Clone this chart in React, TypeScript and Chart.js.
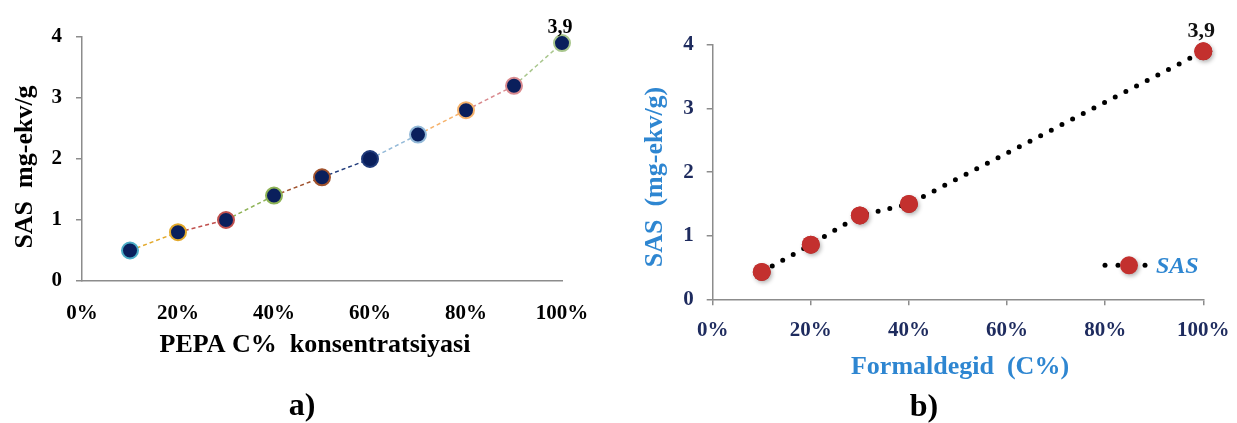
import { useEffect, useRef } from 'react';
import { Chart, registerables } from 'chart.js';

Chart.register(...registerables);

// Panel a) — PEPA concentration vs SAS
const pepaPercent = [10, 20, 30, 40, 50, 60, 70, 80, 90, 100];
const pepaSas = [0.5, 0.8, 1.0, 1.4, 1.7, 2.0, 2.4, 2.8, 3.2, 3.9];
const pepaPointColors = [
  '#4BACC6', '#E3A92B', '#C0504D', '#8DB255', '#A0522D',
  '#1F3A7A', '#93B9D8', '#F6B26B', '#D98A8E', '#A8C68C',
];

// Panel b) — formaldehyde concentration vs SAS
const formPercent = [10, 20, 30, 40, 100];
const formSas = [0.43, 0.86, 1.32, 1.5, 3.9];

// Shared axis ranges
const xMin = 0;
const xMax = 100;
const xStep = 20;
const yMin = 0;
const yMax = 4;
const yStep = 1;

const SERIF = '"Liberation Serif", "Times New Roman", serif';
const AXIS_GREY = '#8c8c8c';
const NAVY = '#1E2B5E';
const BLUE = '#2E86D1';

type Caption = { text: string; x: number; y: number; font: string; color: string; rotate?: boolean };

function captionsPlugin(items: Caption[]) {
  return {
    id: 'captions',
    afterDraw(chart: any) {
      const ctx = chart.ctx as CanvasRenderingContext2D;
      for (const c of items) {
        ctx.save();
        ctx.translate(c.x, c.y);
        if (c.rotate) ctx.rotate(-Math.PI / 2);
        ctx.font = c.font;
        ctx.fillStyle = c.color;
        ctx.textAlign = 'center';
        ctx.textBaseline = 'middle';
        ctx.fillText(c.text, 0, 0);
        ctx.restore();
      }
    },
  };
}

// Writes the value of the last point above it, with a decimal comma
function lastValuePlugin(values: number[], font: string, color: string, lift: number) {
  return {
    id: 'lastValue',
    afterDatasetsDraw(chart: any) {
      const meta = chart.getDatasetMeta(0);
      const idx = meta.data.length - 1;
      const el = meta.data[idx];
      const v = values[idx];
      const ctx = chart.ctx as CanvasRenderingContext2D;
      ctx.save();
      ctx.font = font;
      ctx.fillStyle = color;
      ctx.textAlign = 'center';
      ctx.textBaseline = 'middle';
      ctx.fillText(String(v).replace('.', ','), el.x - 2, el.y - lift);
      ctx.restore();
    },
  };
}

// Soft drop shadow under the point markers only
function markerShadowPlugin(color: string) {
  return {
    id: 'markerShadow',
    afterDatasetsDraw(chart: any) {
      const meta = chart.getDatasetMeta(0);
      const ctx = chart.ctx as CanvasRenderingContext2D;
      ctx.save();
      ctx.shadowColor = color;
      ctx.shadowBlur = 4;
      ctx.shadowOffsetX = 1.5;
      ctx.shadowOffsetY = 2;
      for (const el of meta.data) el.draw(ctx, chart.chartArea);
      ctx.restore();
    },
  };
}

// In-plot legend sample for the dotted series
function sampleLegendPlugin(label: string, ox: number, oy: number) {
  return {
    id: 'sampleLegend',
    afterDraw(chart: any) {
      const ds = chart.data.datasets[0];
      const ctx = chart.ctx as CanvasRenderingContext2D;
      const area = chart.chartArea;
      const x0 = area.right - ox;
      const y0 = area.bottom - oy;
      const dotR = ds.borderWidth / 2;
      ctx.save();
      ctx.fillStyle = ds.borderColor;
      for (const dx of [0, 13, 40]) {
        ctx.beginPath();
        ctx.arc(x0 + dx, y0, dotR, 0, Math.PI * 2);
        ctx.fill();
      }
      ctx.shadowColor = 'rgba(0,0,0,0.3)';
      ctx.shadowBlur = 4;
      ctx.shadowOffsetX = 1.5;
      ctx.shadowOffsetY = 2;
      ctx.fillStyle = ds.pointBackgroundColor;
      ctx.beginPath();
      ctx.arc(x0 + 24, y0, ds.pointRadius, 0, Math.PI * 2);
      ctx.fill();
      ctx.shadowColor = 'transparent';
      ctx.font = `italic bold 24px ${SERIF}`;
      ctx.fillStyle = BLUE;
      ctx.textAlign = 'left';
      ctx.textBaseline = 'middle';
      ctx.fillText(label, x0 + 51, y0 + 1);
      ctx.restore();
    },
  };
}

function makeScales(tickColor: string, xTickMarks: boolean, xPad: number, yPad: number) {
  return {
    x: {
      type: 'linear' as const,
      min: xMin,
      max: xMax,
      afterFit: (s: any) => {
        s.height = 50;
        // edge labels may overhang; the layout padding already leaves room
        s.paddingLeft = 0;
        s.paddingRight = 0;
      },
      ticks: {
        stepSize: xStep,
        padding: xPad,
        color: tickColor,
        font: { family: SERIF, size: 21, weight: 'bold' as const },
        callback: (v: any) => `${v}%`,
      },
      grid: xTickMarks
        ? { drawOnChartArea: false, drawTicks: true, tickLength: 6, color: AXIS_GREY, lineWidth: 1.5 }
        : { display: false, drawTicks: false },
      border: { display: true, color: AXIS_GREY, width: 1.5 },
    },
    y: {
      min: yMin,
      max: yMax,
      afterFit: (s: any) => { s.width = 40; },
      ticks: {
        stepSize: yStep,
        padding: yPad,
        color: tickColor,
        font: { family: SERIF, size: 21, weight: 'bold' as const },
      },
      grid: { drawOnChartArea: false, drawTicks: true, tickLength: 6, color: AXIS_GREY, lineWidth: 1.5 },
      border: { display: true, color: AXIS_GREY, width: 1.5 },
    },
  };
}

export default function App() {
  const leftRef = useRef<HTMLCanvasElement>(null);
  const rightRef = useRef<HTMLCanvasElement>(null);

  useEffect(() => {
    const left = new Chart(leftRef.current!, {
      type: 'line',
      data: {
        datasets: [
          {
            label: 'SAS',
            data: pepaPercent.map((p, i) => ({ x: p, y: pepaSas[i] })),
            clip: false,
            borderWidth: 1.5,
            borderDash: [4, 3],
            borderColor: pepaPointColors[0],
            segment: {
              borderColor: (ctx: any) => pepaPointColors[ctx.p1DataIndex],
            },
            pointRadius: 8,
            pointBorderWidth: 2,
            pointBackgroundColor: '#0A1F5C',
            pointBorderColor: pepaPointColors,
          },
        ],
      },
      options: {
        responsive: false,
        animation: false,
        layout: { padding: { left: 42, right: 58, top: 37, bottom: 92 } },
        plugins: { legend: { display: false }, tooltip: { enabled: false } },
        scales: makeScales('#000', false, 20, 14),
      },
      plugins: [
        captionsPlugin([
          { text: 'SAS  mg-ekv/g', x: 25, y: 167, font: `bold 26px ${SERIF}`, color: '#000', rotate: true },
          { text: 'PEPA C%  konsentratsiyasi', x: 315, y: 345, font: `bold 26px ${SERIF}`, color: '#000' },
          { text: 'a)', x: 302, y: 407, font: `bold 32px ${SERIF}`, color: '#000' },
        ]),
        lastValuePlugin(pepaSas, `bold 20px ${SERIF}`, '#000', 15),
      ],
    });

    const right = new Chart(rightRef.current!, {
      type: 'line',
      data: {
        datasets: [
          {
            label: 'SAS',
            data: formPercent.map((p, i) => ({ x: p, y: formSas[i] })),
            clip: false,
            borderWidth: 5,
            borderDash: [0, 12],
            borderCapStyle: 'round',
            borderColor: '#000',
            pointRadius: 9,
            pointBorderWidth: 0,
            pointBackgroundColor: '#C3302E',
            pointBorderColor: '#C3302E',
          },
        ],
      },
      options: {
        responsive: false,
        animation: false,
        layout: { padding: { left: 52.7, right: 33.7, top: 45, bottom: 73.7 } },
        plugins: { legend: { display: false }, tooltip: { enabled: false } },
        scales: makeScales(NAVY, true, 13, 13),
      },
      plugins: [
        captionsPlugin([
          { text: 'SAS  (mg-ekv/g)', x: 35, y: 177, font: `bold 26px ${SERIF}`, color: BLUE, rotate: true },
          { text: 'Formaldegid  (C%)', x: 340, y: 367, font: `bold 26px ${SERIF}`, color: BLUE },
          { text: 'b)', x: 304, y: 408, font: `bold 32px ${SERIF}`, color: '#000' },
        ]),
        markerShadowPlugin('rgba(0,0,0,0.3)'),
        lastValuePlugin(formSas, `bold 22px ${SERIF}`, '#111', 20),
        sampleLegendPlugin('SAS', 98.3, 34),
      ],
    });

    return () => {
      left.destroy();
      right.destroy();
    };
  }, []);

  return (
    <div style={{ position: 'fixed', left: 0, top: 0, width: 1237, height: 423, background: '#fff' }}>
      <canvas ref={leftRef} width={620} height={423} style={{ position: 'absolute', left: 0, top: 0 }} />
      <canvas ref={rightRef} width={617} height={423} style={{ position: 'absolute', left: 620, top: 0 }} />
    </div>
  );
}
